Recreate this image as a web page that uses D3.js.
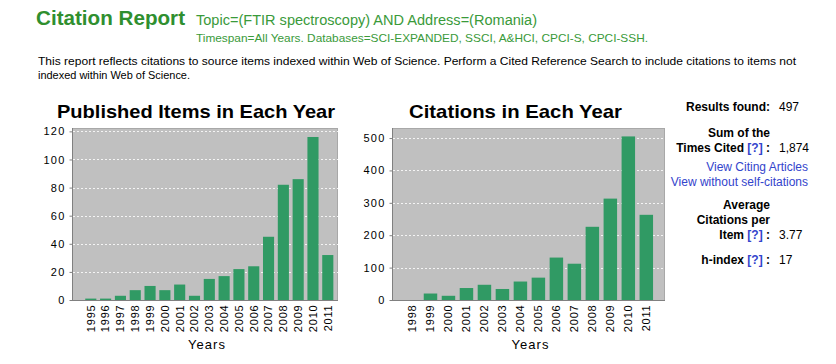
<!DOCTYPE html>
<html>
<head>
<meta charset="utf-8">
<script src="https://cdn.jsdelivr.net/npm/d3@7"></script>
<style>
  body { margin: 0; background: #fff; }
  svg { display: block; font-family: "Liberation Sans", Arial, sans-serif; }
</style>
</head>
<body>
<script>
// data
const pubYears = ["1995","1996","1997","1998","1999","2000","2001","2002","2003","2004","2005","2006","2007","2008","2009","2010","2011"];
const pubCounts = [1, 1, 3, 7, 10, 7, 11, 3, 15, 17, 22, 24, 45, 82, 86, 116, 32];
const pubTicks = [0, 20, 40, 60, 80, 100, 120];

const citYears = ["1998","1999","2000","2001","2002","2003","2004","2005","2006","2007","2008","2009","2010","2011"];
const citCounts = [0, 20, 13, 37, 47, 34, 57, 69, 131, 112, 226, 313, 505, 263];
const citTicks = [0, 100, 200, 300, 400, 500];

const statLabels = ["Results found:", "Sum of the", "Times Cited", "Average", "Citations per", "Item", "h-index"];
const statValues = ["497", "1,874", "3.77", "17"];
const statLinks = ["View Citing Articles", "View without self-citations"];

const W = 836, H = 364;
const green = "#2f8f2f", barColor = "#309a64", linkBlue = "#3344cc";

const svg = d3.select("body").append("svg").attr("width", W).attr("height", H);

// header
svg.append("text").attr("x", 36).attr("y", 25)
  .attr("font-size", 20).attr("font-weight", "bold").attr("fill", green)
  .attr("textLength", 149).attr("lengthAdjust", "spacingAndGlyphs")
  .text("Citation Report");
svg.append("text").attr("x", 196).attr("y", 25)
  .attr("font-size", 15.5).attr("fill", "#3a9a3a")
  .attr("textLength", 341).attr("lengthAdjust", "spacingAndGlyphs")
  .text("Topic=(FTIR spectroscopy) AND Address=(Romania)");
svg.append("text").attr("x", 196).attr("y", 42)
  .attr("font-size", 11.5).attr("fill", "#3a9a3a")
  .attr("textLength", 452).attr("lengthAdjust", "spacingAndGlyphs")
  .text("Timespan=All Years. Databases=SCI-EXPANDED, SSCI, A&HCI, CPCI-S, CPCI-SSH.");
svg.append("text").attr("x", 38).attr("y", 65)
  .attr("font-size", 11.5).attr("fill", "#000")
  .attr("textLength", 758).attr("lengthAdjust", "spacingAndGlyphs")
  .text("This report reflects citations to source items indexed within Web of Science. Perform a Cited Reference Search to include citations to items not");
svg.append("text").attr("x", 38).attr("y", 79)
  .attr("font-size", 11.5).attr("fill", "#000")
  .attr("textLength", 152).attr("lengthAdjust", "spacingAndGlyphs")
  .text("indexed within Web of Science.");

function barChart(opt) {
  const g = svg.append("g");
  const x = d3.scaleBand().domain(opt.years).range(opt.bandRange)
    .paddingInner(0.25).paddingOuter(0.125);
  const y = d3.scaleLinear().domain([0, opt.ymax]).range([opt.y0, opt.y1]);

  // title
  g.append("text").attr("x", opt.titleX).attr("y", 118)
    .attr("font-size", 18.5).attr("font-weight", "bold").attr("fill", "#000")
    .attr("textLength", opt.titleW).attr("lengthAdjust", "spacingAndGlyphs")
    .text(opt.title);

  // plot background
  g.append("rect").attr("x", opt.x0).attr("y", opt.y1)
    .attr("width", opt.x1 - opt.x0).attr("height", opt.y0 - opt.y1)
    .attr("fill", "#c0c0c0");
  g.append("line").attr("x1", opt.x0).attr("x2", opt.x1)
    .attr("y1", opt.y1 + 0.5).attr("y2", opt.y1 + 0.5)
    .attr("stroke", "#a8a8a8");
  g.append("line").attr("x1", opt.x1 - 0.5).attr("x2", opt.x1 - 0.5)
    .attr("y1", opt.y1).attr("y2", opt.y0)
    .attr("stroke", "#a8a8a8");

  // gridlines
  g.selectAll(".grid").data(opt.ticks.filter(t => t > 0)).join("line")
    .attr("x1", opt.x0 + 1).attr("x2", opt.x1)
    .attr("y1", d => Math.round(y(d)) + 0.5).attr("y2", d => Math.round(y(d)) + 0.5)
    .attr("stroke", "#f4f4f4").attr("stroke-dasharray", "2,2");

  // bars
  g.selectAll(".bar").data(opt.values).join("rect")
    .attr("x", (d, i) => x(opt.years[i]))
    .attr("width", x.bandwidth())
    .attr("y", d => y(d))
    .attr("height", d => opt.y0 - y(d))
    .attr("fill", barColor);

  // y axis
  const ya = g.append("g").attr("transform", `translate(${opt.x0 + 0.5},0)`)
    .call(d3.axisLeft(y).tickValues(opt.ticks).tickSize(3).tickPadding(4));
  ya.select(".domain").attr("stroke", "#808080").attr("d", `M0,${opt.y1}V${opt.y0}`);
  ya.selectAll(".tick line").attr("stroke", "#808080");
  ya.selectAll(".tick text").attr("font-size", 11).attr("fill", "#000")
    .attr("font-family", "Liberation Sans, Arial, sans-serif")
    .attr("letter-spacing", 1.2);

  // x axis
  const xa = g.append("g").attr("transform", `translate(0,${opt.y0 + 0.5})`)
    .call(d3.axisBottom(x).tickSize(0).tickPadding(0));
  xa.select(".domain").attr("stroke", "#808080").attr("d", `M${opt.x0},0H${opt.x1}`);
  xa.selectAll(".tick text")
    .attr("font-size", 11).attr("fill", "#000")
    .attr("font-family", "Liberation Sans, Arial, sans-serif")
    .attr("letter-spacing", 0.8)
    .attr("transform", "rotate(-90)")
    .attr("text-anchor", "end")
    .attr("x", -4).attr("y", 0).attr("dy", "0.35em");

  g.append("text").attr("x", (opt.x0 + opt.x1) / 2 + 2).attr("y", 349)
    .attr("text-anchor", "middle").attr("font-size", 13).attr("fill", "#000")
    .attr("letter-spacing", 1)
    .text("Years");
}

barChart({
  title: "Published Items in Each Year", titleX: 57, titleW: 278,
  years: pubYears, values: pubCounts, ticks: pubTicks,
  x0: 72, x1: 338, y0: 300, y1: 128, ymax: 122.4,
  bandRange: [83.4, 335.2]
});

barChart({
  title: "Citations in Each Year", titleX: 409, titleW: 213,
  years: citYears, values: citCounts, ticks: citTicks,
  x0: 392, x1: 665, y0: 300, y1: 128, ymax: 531,
  bandRange: [403.5, 655.3]
});

// summary panel
const panel = svg.append("g").attr("font-size", 12);
const colonX = 770, valX = 779;

function label(txt, yb, help) {
  const t = panel.append("text").attr("x", colonX).attr("y", yb)
    .attr("text-anchor", "end").attr("font-weight", "bold").attr("fill", "#000");
  t.append("tspan").text(txt);
  if (help) {
    t.append("tspan").attr("fill", linkBlue).text(" [?]");
    t.append("tspan").text(" :");
  }
}
function value(txt, yb) {
  panel.append("text").attr("x", valX).attr("y", yb).attr("fill", "#000").text(txt);
}

label(statLabels[0], 111, false); value(statValues[0], 111);
label(statLabels[1], 137, false);
label(statLabels[2], 152, true); value(statValues[1], 152);
panel.append("text").attr("x", 808).attr("y", 171).attr("text-anchor", "end")
  .attr("fill", linkBlue).text(statLinks[0]);
panel.append("text").attr("x", 808).attr("y", 186).attr("text-anchor", "end")
  .attr("fill", linkBlue).text(statLinks[1]);
label(statLabels[3], 209, false);
label(statLabels[4], 224, false);
label(statLabels[5], 239, true); value(statValues[2], 239);
label(statLabels[6], 264, true); value(statValues[3], 264);
</script>
</body>
</html>
